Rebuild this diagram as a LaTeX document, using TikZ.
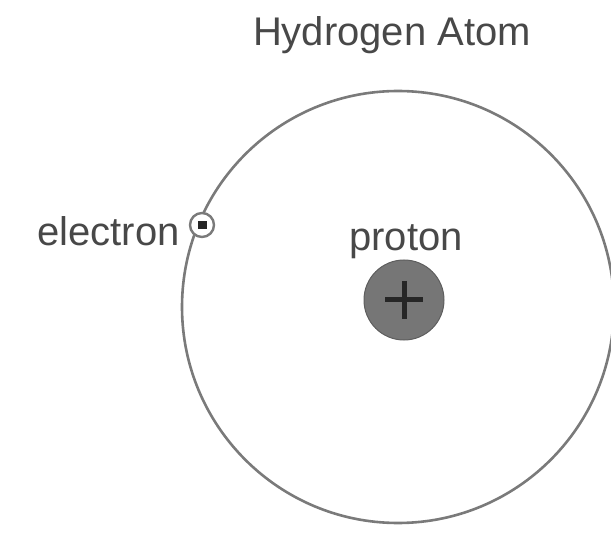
\documentclass[tikz,border=0pt]{standalone}
\usepackage{fontspec}
\setmainfont{Liberation Sans}
\definecolor{inkgray}{HTML}{484848}
\definecolor{orbitgray}{HTML}{7A7A7A}
\definecolor{protongray}{HTML}{767676}
\begin{document}
\begin{tikzpicture}[x=1pt, y=-1pt,
    label/.style={inner sep=0pt, text=inkgray, font=\fontsize{40}{46}\selectfont},
    particle/.style={circle, draw, inner sep=0pt}]
    \path[use as bounding box] (0,0) rectangle (611,540);
    \coordinate (O) at (398,307);
    \node (title) [label, anchor=base] at (392,46) {Hydrogen Atom};

    % orbit
    \draw[orbitgray, line width=2.6pt] (O) circle (216pt);

    \node (p) [particle, fill=protongray, draw=protongray!80!black, line width=1pt,
        minimum size=80pt] at (404,300) {};
    \draw[black!85, line width=5pt] (p.center) ++(-19,0) -- ++(38,0);
    \draw[black!85, line width=5pt] (p.center) ++(0,-19) -- ++(0,38);
    \node (plabel) [label, anchor=base] at (406,251) {proton};

    \node (e) [particle, fill=white, draw=orbitgray, line width=2.4pt,
        minimum size=24pt] at (202,225) {};
    \fill[black!85] (e.center) ++(-4.5,-4) rectangle ++(9,8);
    \node (elabel) [label, anchor=base east] at (180,246) {electron};

\end{tikzpicture}
\end{document}
